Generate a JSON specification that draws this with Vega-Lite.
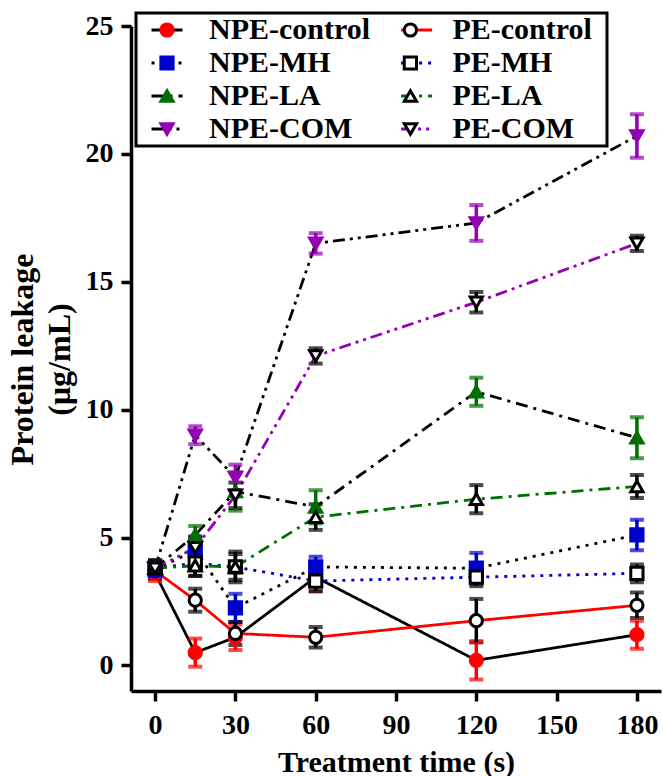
{
  "$schema": "https://vega.github.io/schema/vega-lite/v6.json",
  "width": 530,
  "height": 665,
  "autosize": "none",
  "padding": {"left": 131, "top": 26, "right": 2, "bottom": 85},
  "background": "white",
  "config": {"view": {"stroke": null}, "font": "Liberation Serif"},
  "data": {
    "values": [
      {"s": "NPE-control", "t": 0, "v": 3.6, "e": 0.3},
      {"s": "NPE-control", "t": 15, "v": 0.5, "e": 0.55},
      {"s": "NPE-control", "t": 30, "v": 1.1, "e": 0.5},
      {"s": "NPE-control", "t": 60, "v": 3.45, "e": 0.55},
      {"s": "NPE-control", "t": 120, "v": 0.2, "e": 0.75},
      {"s": "NPE-control", "t": 180, "v": 1.2, "e": 0.55},
      {"s": "PE-control", "t": 0, "v": 3.7, "e": 0.3},
      {"s": "PE-control", "t": 15, "v": 2.55, "e": 0.45},
      {"s": "PE-control", "t": 30, "v": 1.25, "e": 0.45},
      {"s": "PE-control", "t": 60, "v": 1.1, "e": 0.4},
      {"s": "PE-control", "t": 120, "v": 1.75, "e": 0.85},
      {"s": "PE-control", "t": 180, "v": 2.35, "e": 0.5},
      {"s": "NPE-MH", "t": 0, "v": 3.75, "e": 0.3},
      {"s": "NPE-MH", "t": 15, "v": 4.5, "e": 0.55},
      {"s": "NPE-MH", "t": 30, "v": 2.25, "e": 0.55},
      {"s": "NPE-MH", "t": 60, "v": 3.85, "e": 0.4},
      {"s": "NPE-MH", "t": 120, "v": 3.8, "e": 0.6},
      {"s": "NPE-MH", "t": 180, "v": 5.1, "e": 0.6},
      {"s": "PE-MH", "t": 0, "v": 3.8, "e": 0.3},
      {"s": "PE-MH", "t": 15, "v": 4.0, "e": 0.5},
      {"s": "PE-MH", "t": 30, "v": 3.85, "e": 0.6},
      {"s": "PE-MH", "t": 60, "v": 3.3, "e": 0.4},
      {"s": "PE-MH", "t": 120, "v": 3.45, "e": 0.35},
      {"s": "PE-MH", "t": 180, "v": 3.6, "e": 0.35},
      {"s": "NPE-LA", "t": 0, "v": 3.8, "e": 0.3},
      {"s": "NPE-LA", "t": 15, "v": 5.1, "e": 0.35},
      {"s": "NPE-LA", "t": 30, "v": 6.8, "e": 0.75},
      {"s": "NPE-LA", "t": 60, "v": 6.2, "e": 0.65},
      {"s": "NPE-LA", "t": 120, "v": 10.7, "e": 0.55},
      {"s": "NPE-LA", "t": 180, "v": 8.9, "e": 0.8},
      {"s": "PE-LA", "t": 0, "v": 3.8, "e": 0.3},
      {"s": "PE-LA", "t": 15, "v": 3.9, "e": 0.4},
      {"s": "PE-LA", "t": 30, "v": 3.85, "e": 0.5},
      {"s": "PE-LA", "t": 60, "v": 5.8, "e": 0.5},
      {"s": "PE-LA", "t": 120, "v": 6.5, "e": 0.55},
      {"s": "PE-LA", "t": 180, "v": 7.0, "e": 0.45},
      {"s": "NPE-COM", "t": 0, "v": 3.8, "e": 0.3},
      {"s": "NPE-COM", "t": 15, "v": 9.0, "e": 0.35},
      {"s": "NPE-COM", "t": 30, "v": 7.35, "e": 0.5},
      {"s": "NPE-COM", "t": 60, "v": 16.5, "e": 0.4},
      {"s": "NPE-COM", "t": 120, "v": 17.3, "e": 0.7},
      {"s": "NPE-COM", "t": 180, "v": 20.7, "e": 0.85},
      {"s": "PE-COM", "t": 0, "v": 3.8, "e": 0.3},
      {"s": "PE-COM", "t": 15, "v": 4.6, "e": 0.4},
      {"s": "PE-COM", "t": 30, "v": 6.65, "e": 0.5},
      {"s": "PE-COM", "t": 60, "v": 12.1, "e": 0.3},
      {"s": "PE-COM", "t": 120, "v": 14.2, "e": 0.4},
      {"s": "PE-COM", "t": 180, "v": 16.5, "e": 0.3}
    ]
  },
  "encoding": {
    "x": {
      "field": "t", "type": "quantitative",
      "scale": {"domain": [-9, 189], "nice": false, "zero": false},
      "axis": {
        "values": [0, 30, 60, 90, 120, 150, 180],
        "title": "Treatment time (s)",
        "grid": false,
        "domainColor": "black", "domainWidth": 3.5,
        "tickColor": "black", "tickWidth": 3.5, "tickSize": 10,
        "labelFont": "Liberation Serif", "labelFontSize": 28, "labelFontWeight": "bold", "labelColor": "black",
        "labelPadding": 10, "labelFlush": false,
        "titleFont": "Liberation Serif", "titleFontSize": 30, "titleFontWeight": "bold", "titleColor": "black",
        "titlePadding": 8
      }
    },
    "y": {
      "field": "v", "type": "quantitative",
      "scale": {"domain": [-1, 25], "nice": false, "zero": false},
      "axis": {
        "values": [0, 5, 10, 15, 20, 25],
        "title": ["Protein leakage", "(μg/mL)"],
        "grid": false,
        "domainColor": "black", "domainWidth": 3.5,
        "tickColor": "black", "tickWidth": 3.5, "tickSize": 10,
        "labelFont": "Liberation Serif", "labelFontSize": 28, "labelFontWeight": "bold", "labelColor": "black",
        "labelPadding": 8, "labelFlush": false,
        "titleFont": "Liberation Serif", "titleFontSize": 32, "titleFontWeight": "bold", "titleColor": "black",
        "titleAngle": -90, "titleAlign": "center", "titleBaseline": "alphabetic",
        "titleX": -99, "titleY": 333, "titleLineHeight": 37
      }
    }
  },
  "resolve": {"scale": {"stroke": "independent", "strokeDash": "independent", "shape": "independent", "fill": "independent", "color": "independent"}},
  "layer": [
    {
      "mark": {"type": "line", "strokeWidth": 2.8},
      "encoding": {
        "stroke": {
          "field": "s", "type": "nominal",
          "scale": {
            "domain": ["NPE-control", "PE-control", "NPE-MH", "PE-MH", "NPE-LA", "PE-LA", "NPE-COM", "PE-COM"],
            "range": ["#000000", "#ff0000", "#000000", "#0000cc", "#000000", "#006e00", "#000000", "#9400b3"]
          },
          "legend": {
            "orient": "none", "legendX": 5, "legendY": -13, "columns": 2, "direction": "horizontal", "title": null,
            "symbolType": "stroke", "symbolSize": 961, "symbolStrokeWidth": 3,
            "labelExpr": "''", "labelFontSize": 1, "labelOffset": 159,
            "columnPadding": 56.6, "rowPadding": 27, "clipHeight": 6,
            "strokeColor": "black", "padding": 14, "zindex": 1,
            "encode": {"legend": {"update": {"strokeWidth": {"value": 3}}}}
          }
        },
        "strokeDash": {
          "field": "s", "type": "nominal",
          "scale": {
            "domain": ["NPE-control", "PE-control", "NPE-MH", "PE-MH", "NPE-LA", "PE-LA", "NPE-COM", "PE-COM"],
            "range": [[1, 0], [1, 0], [3, 6], [3, 6], [12, 6, 3, 6], [12, 6, 3, 6], [12, 5, 3, 5, 3, 5], [12, 5, 3, 5, 3, 5]]
          },
          "legend": {
            "orient": "none", "legendX": 5, "legendY": -13, "columns": 2, "direction": "horizontal", "title": null,
            "symbolType": "stroke", "symbolSize": 961, "symbolStrokeWidth": 3,
            "labelExpr": "''", "labelFontSize": 1, "labelOffset": 159,
            "columnPadding": 56.6, "rowPadding": 27, "clipHeight": 6,
            "strokeColor": "black", "padding": 14, "zindex": 1,
            "encode": {"legend": {"update": {"strokeWidth": {"value": 3}}}}
          }
        }
      }
    },
    {
      "mark": {"type": "errorbar", "thickness": 3.5, "ticks": {"size": 14, "thickness": 4}},
      "encoding": {
        "yError": {"field": "e"},
        "color": {
          "field": "s", "type": "nominal",
          "scale": {
            "domain": ["NPE-control", "PE-control", "NPE-MH", "PE-MH", "NPE-LA", "PE-LA", "NPE-COM", "PE-COM"],
            "range": ["#ff0000", "#000000", "#0000cc", "#000000", "#006e00", "#000000", "#9400b3", "#000000"]
          },
          "legend": null
        }
      }
    },
    {
      "mark": {"type": "point", "filled": true, "size": 150, "strokeWidth": 3, "opacity": 1},
      "encoding": {
        "shape": {
          "field": "s", "type": "nominal",
          "scale": {
            "domain": ["NPE-control", "PE-control", "NPE-MH", "PE-MH", "NPE-LA", "PE-LA", "NPE-COM", "PE-COM"],
            "range": ["circle", "circle", "square", "square", "triangle-up", "triangle-up", "triangle-down", "triangle-down"]
          },
          "legend": {
            "orient": "none", "legendX": 21, "legendY": -11, "columns": 2, "direction": "horizontal", "title": null,
            "symbolSize": 150, "symbolStrokeWidth": 3,
            "labelFont": "Liberation Serif", "labelFontSize": 30, "labelFontWeight": "bold", "labelColor": "black",
            "labelOffset": 27, "labelLimit": 400, "columnPadding": 24.4, "rowPadding": 3, "clipHeight": 30,
            "padding": 0, "zindex": 2
          }
        },
        "fill": {
          "field": "s", "type": "nominal",
          "scale": {
            "domain": ["NPE-control", "PE-control", "NPE-MH", "PE-MH", "NPE-LA", "PE-LA", "NPE-COM", "PE-COM"],
            "range": ["#ff0000", "#ffffff", "#0000cc", "#ffffff", "#006e00", "#ffffff", "#9400b3", "#ffffff"]
          },
          "legend": {
            "orient": "none", "legendX": 21, "legendY": -11, "columns": 2, "direction": "horizontal", "title": null,
            "symbolSize": 150, "symbolStrokeWidth": 3,
            "labelFont": "Liberation Serif", "labelFontSize": 30, "labelFontWeight": "bold", "labelColor": "black",
            "labelOffset": 27, "labelLimit": 400, "columnPadding": 24.4, "rowPadding": 3, "clipHeight": 30,
            "padding": 0, "zindex": 2
          }
        },
        "stroke": {
          "field": "s", "type": "nominal",
          "scale": {
            "domain": ["NPE-control", "PE-control", "NPE-MH", "PE-MH", "NPE-LA", "PE-LA", "NPE-COM", "PE-COM"],
            "range": ["#ff0000", "#000000", "#0000cc", "#000000", "#006e00", "#000000", "#9400b3", "#000000"]
          },
          "legend": {
            "orient": "none", "legendX": 21, "legendY": -11, "columns": 2, "direction": "horizontal", "title": null,
            "symbolSize": 150, "symbolStrokeWidth": 3,
            "labelFont": "Liberation Serif", "labelFontSize": 30, "labelFontWeight": "bold", "labelColor": "black",
            "labelOffset": 27, "labelLimit": 400, "columnPadding": 24.4, "rowPadding": 3, "clipHeight": 30,
            "padding": 0, "zindex": 2
          }
        }
      }
    }
  ]
}
